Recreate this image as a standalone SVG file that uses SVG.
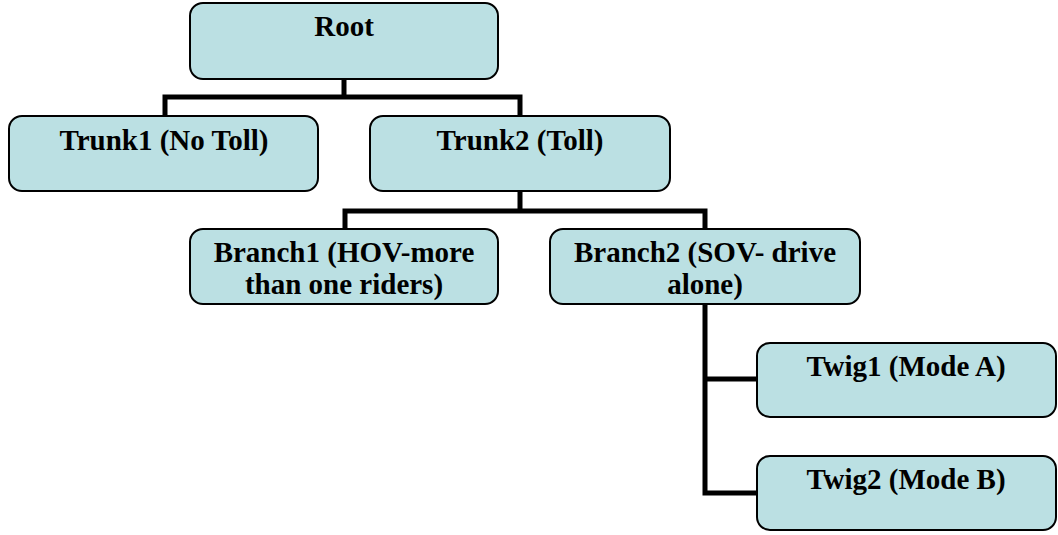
<svg xmlns="http://www.w3.org/2000/svg" width="1058" height="535" viewBox="0 0 1058 535">
<style>
.box{fill:#bbe0e3;stroke:#000;stroke-width:2}
.t{font-family:"Liberation Serif","Times New Roman",serif;font-weight:bold;font-size:29px;fill:#000;text-anchor:middle}
.c{fill:none;stroke:#000;stroke-width:5;stroke-linecap:butt;stroke-linejoin:miter}
</style>
<rect width="1058" height="535" fill="#fff"/>
<g id="connectors">
<path class="c" d="M344 79V97M165 116V97H520V116"/>
<path class="c" d="M520 191V211M345 229V211H705V229"/>
<path class="c" d="M705 304V493H757M705 379H757"/>
</g>
<g id="root"><rect class="box" x="190" y="3" width="308" height="76" rx="13"/><text class="t" x="344" y="36">Root</text></g>
<g id="trunk1"><rect class="box" x="9" y="116" width="309" height="75" rx="13"/><text class="t" x="164" y="150">Trunk1 (No Toll)</text></g>
<g id="trunk2"><rect class="box" x="370" y="116" width="300" height="75" rx="13"/><text class="t" x="520" y="150">Trunk2 (Toll)</text></g>
<g id="branch1"><rect class="box" x="190" y="229" width="308" height="75" rx="13"/><text class="t" x="344" y="262">Branch1 (HOV-more</text><text class="t" x="344" y="294">than one riders)</text></g>
<g id="branch2"><rect class="box" x="550" y="229" width="310" height="75" rx="13"/><text class="t" x="705" y="262">Branch2 (SOV- drive</text><text class="t" x="705" y="294">alone)</text></g>
<g id="twig1"><rect class="box" x="757" y="343" width="299" height="74" rx="13"/><text class="t" x="906" y="376">Twig1 (Mode A)</text></g>
<g id="twig2"><rect class="box" x="757" y="456" width="299" height="74" rx="13"/><text class="t" x="906" y="489">Twig2 (Mode B)</text></g>
</svg>
